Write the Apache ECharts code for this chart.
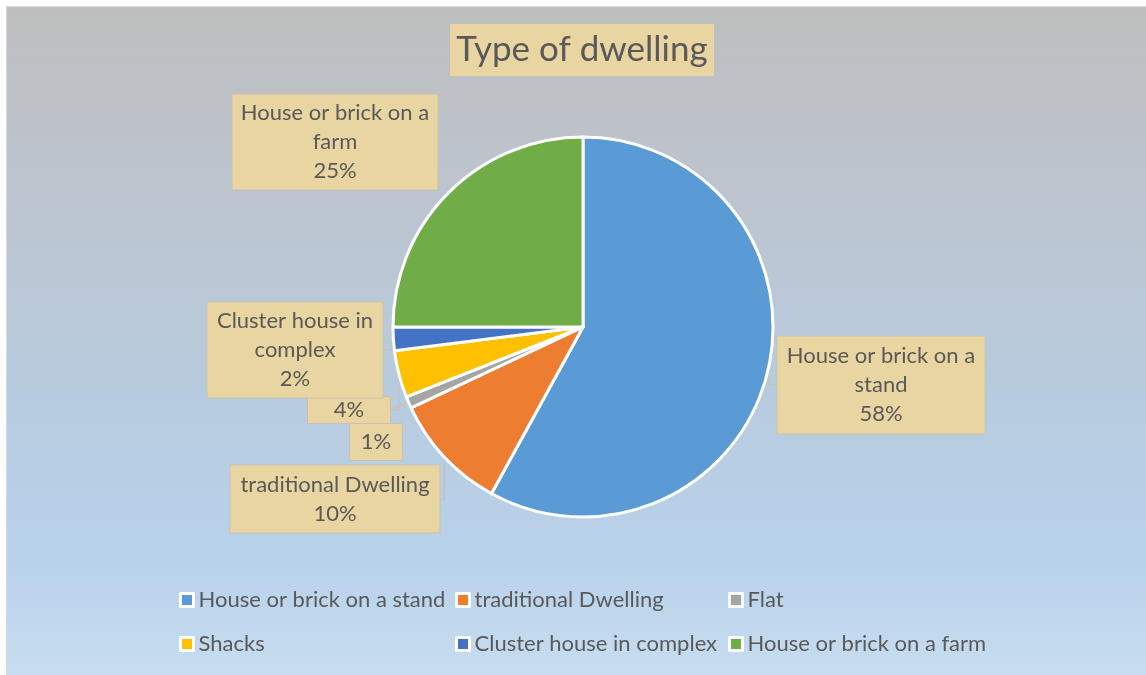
<!DOCTYPE html>
<html>
<head>
<meta charset="utf-8">
<script src="https://cdn.jsdelivr.net/npm/echarts@6/dist/echarts.min.js"></script>
<style>
html,body{margin:0;padding:0;background:#fff;}
#c{width:1146px;height:675px;}
</style>
</head>
<body>
<div id="c"></div>
<script>
// ---- data ----
const titleText = 'Type of dwelling';
const categories = ['House or brick on a stand', 'traditional Dwelling', 'Flat', 'Shacks', 'Cluster house in complex', 'House or brick on a farm'];
const values = [58, 10, 1, 4, 2, 25];
const labelTexts = ['House or brick on a\nstand\n58%', 'traditional Dwelling\n10%', '1%', '4%', 'Cluster house in\ncomplex\n2%', 'House or brick on a\nfarm\n25%'];

// ---- styling / layout ----
const colors = ['#5B9BD5', '#ED7D31', '#A5A5A5', '#FFC000', '#4472C4', '#70AD47'];
const labelBoxes = [ // [centerX, centerY, width, height, lineHeight]
  [881, 385, 207, 97, 29],
  [335, 499, 209, 67, 29],
  [376, 442, 52, 36, 29],
  [349, 410, 82, 26, 26],
  [295, 350, 175, 95, 29],
  [335, 142, 205, 95, 29]
];
const legendPos = [[179, 588], [455, 588], [728, 588], [179, 632], [455, 632], [728, 632]];
const paper = '#e9d5a1';
const textColor = '#595959';
const font = 'Lato, "Open Sans", sans-serif';

const data = categories.map((name, i) => {
  const b = labelBoxes[i];
  const nLines = labelTexts[i].split('\n').length;
  const padV = Math.max(0, (b[3] - nLines * b[4]) / 2);
  return {
    name: name,
    value: values[i],
    itemStyle: { color: colors[i] },
    label: {
      formatter: labelTexts[i],
      width: b[2],
      lineHeight: b[4],
      padding: [padV, 0, padV, 0]
    }
  };
});

const legends = categories.map((name, i) => ({
  data: [name],
  left: legendPos[i][0],
  top: legendPos[i][1],
  padding: 0,
  orient: 'horizontal',
  icon: 'rect',
  itemWidth: 13,
  itemHeight: 13,
  itemGap: 5,
  itemStyle: { borderColor: '#ffffff', borderWidth: 3 },
  textStyle: { fontFamily: font, fontSize: 22, color: textColor, lineHeight: 24, padding: [0, 0, 0, 0] }
}));

const chart = echarts.init(document.getElementById('c'), null, { renderer: 'canvas' });
chart.setOption({
  animation: false,
  color: colors,
  graphic: [
    {
      type: 'rect', left: 6, top: 6, z: -10,
      shape: { width: 1146, height: 675 },
      style: {
        fill: new echarts.graphic.LinearGradient(0, 0, 0, 1, [
          { offset: 0, color: '#bebebe' },
          { offset: 0.3, color: '#bcc5d0' },
          { offset: 0.6, color: '#b7cce0' },
          { offset: 0.82, color: '#b8d2ea' },
          { offset: 1, color: '#c8ddf0' }
        ]),
        stroke: '#d9d9d9', lineWidth: 1
      }
    },
    {
      type: 'text', x: 582, y: 50, z: 10,
      style: {
        text: titleText,
        font: '35px ' + font,
        fill: textColor,
        backgroundColor: paper,
        width: 264,
        lineHeight: 52,
        align: 'center',
        verticalAlign: 'middle'
      }
    }
  ],
  legend: legends,
  series: [{
    type: 'pie',
    center: [583, 327],
    radius: 190,
    startAngle: 90,
    clockwise: true,
    avoidLabelOverlap: false,
    itemStyle: { borderColor: '#ffffff', borderWidth: 3 },
    label: {
      show: true,
      position: 'outside',
      fontFamily: font,
      fontSize: 22,
      color: textColor,
      align: 'center',
      backgroundColor: paper,
      borderColor: '#c9c2ad',
      borderWidth: 1,
      overflow: 'none'
    },
    labelLine: {
      show: true,
      length: 8,
      length2: 8,
      lineStyle: { color: '#c2c2c2', width: 1.5 }
    },
    labelLayout: function (params) {
      const b = labelBoxes[params.dataIndex];
      return { x: b[0], y: b[1], align: 'center', verticalAlign: 'middle' };
    },
    data: data
  }]
});
</script>
</body>
</html>
